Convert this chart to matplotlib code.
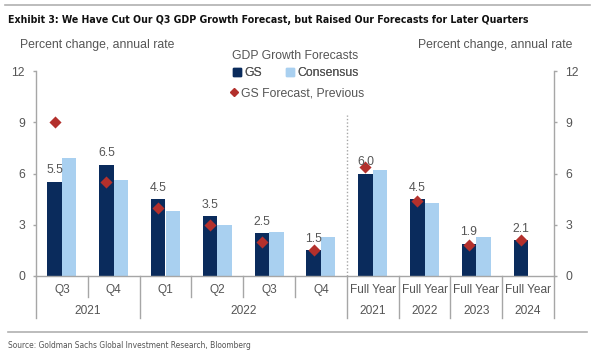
import matplotlib
matplotlib.use("Agg")
import matplotlib.pyplot as plt
from matplotlib.lines import Line2D
from matplotlib.patches import Patch
import numpy as np

# data
periods = ["Q3", "Q4", "Q1", "Q2", "Q3", "Q4", "Full Year", "Full Year", "Full Year", "Full Year"]
year_labels = ["2021", "2022", "2021", "2022", "2023", "2024"]
year_centers = [0.5, 3.5, 6, 7, 8, 9]
gs = [5.5, 6.5, 4.5, 3.5, 2.5, 1.5, 6.0, 4.5, 1.9, 2.1]
consensus = [6.9, 5.6, 3.8, 3.0, 2.6, 2.3, 6.2, 4.3, 2.3, np.nan]
previous = [9.0, 5.5, 4.0, 3.0, 2.0, 1.5, 6.4, 4.4, 1.8, 2.1]

navy = "#0a2b5c"
light = "#a9d0f0"
red = "#b3302c"
grey_txt = "#555555"
grey_line = "#a6a6a6"

plt.rcParams['font.family'] = ['Liberation Sans', 'DejaVu Sans']

W, H = 607, 362
fig = plt.figure(figsize=(W / 100, H / 100), dpi=100)
ax = fig.add_axes([36 / W, 1 - 276 / H, (554 - 36) / W, (276 - 71) / H])

x = np.arange(len(periods))
bw = 0.28
ax.bar(x - bw / 2, gs, bw, color=navy, zorder=2)
ax.bar(x + bw / 2, consensus, bw, color=light, zorder=2)
ax.scatter(x - bw / 2, previous, marker="D", s=38, color=red, zorder=3, linewidths=0)

for xi, v in zip(x, gs):
    ax.annotate(f"{v:.1f}", (xi - bw / 2, v), xytext=(0, 4), textcoords="offset points",
                ha="center", va="bottom", fontsize=8.8, color=grey_txt)

ax.set_xlim(-0.5, 9.5)
ax.set_ylim(0, 12)
ax.set_yticks([0, 3, 6, 9, 12])
ax.set_xticks([])
ax.spines["top"].set_visible(False)
for s in ["left", "right", "bottom"]:
    ax.spines[s].set_color(grey_line)
    ax.spines[s].set_linewidth(1.0)
ax.tick_params(axis="y", left=True, right=True, labelleft=True, labelright=True,
               direction="out", length=2.5, width=1.0, color=grey_line,
               labelsize=8.8, labelcolor=grey_txt, pad=5.5)

# dotted separator between quarters and full years
ax.plot([5.5, 5.5], [0, 9.4], color=grey_line, linestyle=(0, (1, 1.5)), linewidth=1.0, zorder=1)

# category axis with two levels
tr = ax.get_xaxis_transform()
ah = 205.0
for b in [-0.5, 0.5, 1.5, 2.5, 3.5, 4.5, 5.5, 6.5, 7.5, 8.5, 9.5]:
    full = b not in (0.5, 2.5, 3.5, 4.5)
    y1 = -42 / ah if full else -21 / ah
    ax.plot([b, b], [0, y1], transform=tr, color=grey_line, linewidth=1.0, clip_on=False)
for xi, p in zip(x, periods):
    ax.text(xi, -14 / ah, p, transform=tr, ha="center", va="center", fontsize=8.6, color=grey_txt)
for c, yl in zip(year_centers, year_labels):
    ax.text(c, -35 / ah, yl, transform=tr, ha="center", va="center", fontsize=8.6, color=grey_txt)

# legend
fig.text(295 / W, 1 - 56 / H, "GDP Growth Forecasts", ha="center", va="center", fontsize=8.8, color=grey_txt)
leg1 = fig.legend(handles=[Patch(color=navy, label="GS"), Patch(color=light, label="Consensus")],
                  loc="center", bbox_to_anchor=(296 / W, 1 - 73 / H), ncol=2, frameon=False,
                  fontsize=8.8, handlelength=0.6, handleheight=0.6, handletextpad=0.3,
                  columnspacing=2.0, labelcolor=grey_txt)
fig.legend(handles=[Line2D([], [], marker="D", color=red, linestyle="none", markersize=4, label="GS Forecast, Previous")],
           loc="center", bbox_to_anchor=(297 / W, 1 - 93 / H), frameon=False, fontsize=8.8,
           handlelength=0.6, handletextpad=0.3, labelcolor=grey_txt)
fig.add_artist(leg1)

fig.text(20 / W, 1 - 45 / H, "Percent change, annual rate", ha="left", va="center", fontsize=8.8, color=grey_txt)
fig.text(572 / W, 1 - 45 / H, "Percent change, annual rate", ha="right", va="center", fontsize=8.8, color=grey_txt)

# title, source and frame lines (condensed faces)
fig.text(8 / W, 1 - 20 / H, "Exhibit 3: We Have Cut Our Q3 GDP Growth Forecast, but Raised Our Forecasts for Later Quarters",
         ha="left", va="center", fontsize=7.6, fontweight="bold", color="#111111",
         family="DejaVu Sans", fontstretch="condensed")
fig.text(8 / W, 1 - 345 / H, "Source: Goldman Sachs Global Investment Research, Bloomberg",
         ha="left", va="center", fontsize=6.0, color=grey_txt, family="DejaVu Sans", fontstretch="condensed")
fig.add_artist(Line2D([5 / W, 590 / W], [1 - 4.5 / H, 1 - 4.5 / H], color="#b0b0b0", linewidth=1.2))
fig.add_artist(Line2D([8 / W, 587 / W], [1 - 332 / H, 1 - 332 / H], color="#b0b0b0", linewidth=1.2))

fig.savefig("out.png", dpi=100)
